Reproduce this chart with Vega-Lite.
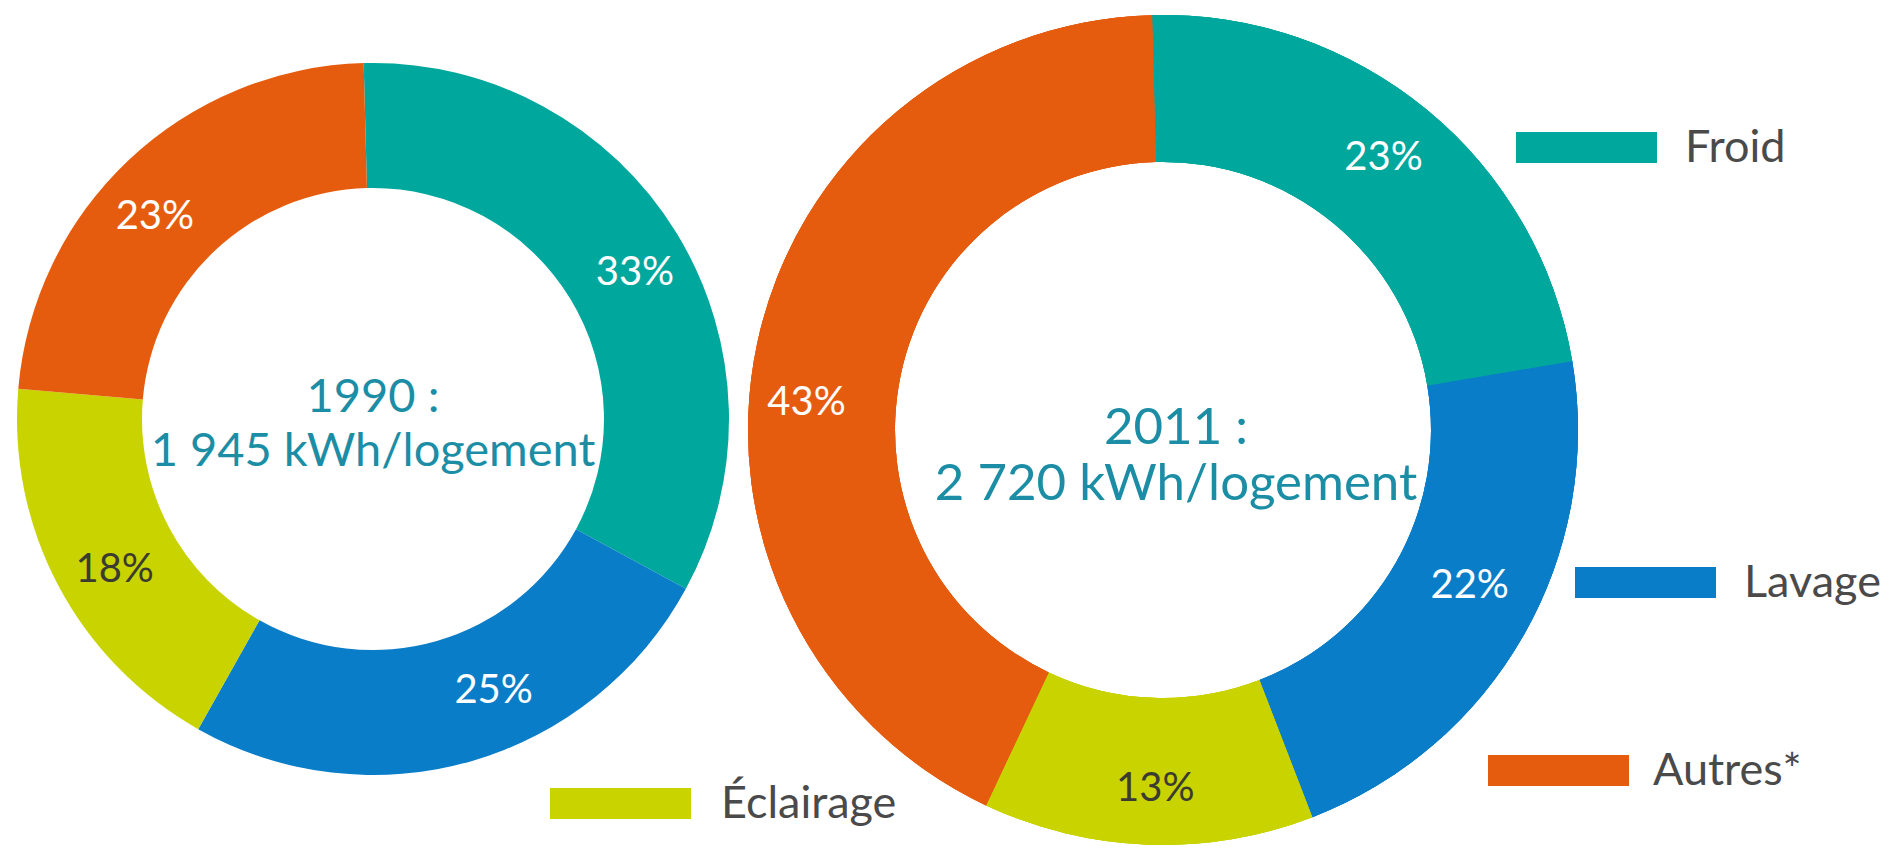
{
  "$schema": "https://vega.github.io/schema/vega-lite/v6.json",
  "padding": 0,
  "background": "white",
  "spacing": 0,
  "bounds": "flush",
  "config": {"view": {"stroke": null}, "font": "Lato", "text": {"font": "Lato", "fontSize": 40, "align": "center", "baseline": "middle"}},
  "datasets": {
    "d1990": [
      {"usage": "Froid", "part": 33},
      {"usage": "Lavage", "part": 25},
      {"usage": "Éclairage", "part": 18},
      {"usage": "Autres", "part": 23}
    ],
    "d2011": [
      {"usage": "Froid", "part": 23},
      {"usage": "Lavage", "part": 22},
      {"usage": "Éclairage", "part": 13},
      {"usage": "Autres", "part": 43}
    ]
  },
  "resolve": {"scale": {"color": "independent"}, "legend": {"color": "independent"}},
  "hconcat": [
    {
      "width": 746,
      "height": 838,
      "data": {"name": "d1990"},
      "transform": [
        {"calculate": "indexof(['Froid','Lavage','Éclairage','Autres'], datum.usage)", "as": "rang"},
        {"calculate": "datum.part + '%'", "as": "etiquette"}
      ],
      "encoding": {
        "theta": {"field": "part", "type": "quantitative", "stack": true, "scale": {"range": [-0.0262, 6.257]}},
        "order": {"field": "rang", "type": "quantitative"},
        "detail": {"field": "usage", "type": "nominal"}
      },
      "resolve": {"scale": {"color": "independent"}, "legend": {"color": "independent"}},
      "layer": [
        {
          "mark": {"type": "arc", "radius": 356, "innerRadius": 231},
          "encoding": {
            "color": {
              "field": "usage", "type": "nominal",
              "scale": {"domain": ["Froid", "Lavage", "Éclairage", "Autres"], "range": ["#00A79D", "#0A7DC8", "#C9D300", "#E65C0F"]},
              "legend": {
                "orient": "none", "legendX": 550, "legendY": 733, "values": ["Éclairage"], "title": null,
                "symbolType": "M-1,-0.22H1V0.22H-1Z", "symbolSize": 19881, "symbolStrokeWidth": 0,
                "labelFontSize": 45, "labelFont": "Lato", "labelColor": "#4a4a4a", "labelOffset": 30, "labelLimit": 0, "padding": 0
              }
            }
          }
        },
        {
          "mark": {"type": "text", "radius": 299, "color": "white", "dx": 7, "dy": 10},
          "encoding": {"text": {"condition": {"test": "datum.usage === 'Froid'", "field": "etiquette"}, "value": ""}}
        },
        {
          "mark": {"type": "text", "radius": 299, "color": "white", "dx": 38, "dy": -15},
          "encoding": {"text": {"condition": {"test": "datum.usage === 'Lavage'", "field": "etiquette"}, "value": ""}}
        },
        {
          "mark": {"type": "text", "radius": 299, "color": "#3b3b30", "dx": 6, "dy": 11},
          "encoding": {"text": {"condition": {"test": "datum.usage === 'Éclairage'", "field": "etiquette"}, "value": ""}}
        },
        {
          "mark": {"type": "text", "radius": 299, "color": "white", "dx": -13, "dy": 16},
          "encoding": {"text": {"condition": {"test": "datum.usage === 'Autres'", "field": "etiquette"}, "value": ""}}
        },
        {
          "data": {"values": [{"titre": "1990 :\n1 945 kWh/logement"}]},
          "transform": [],
          "mark": {"type": "text", "fontSize": 47, "font": "Lato", "color": "#1B8EA6", "align": "center", "baseline": "middle", "lineBreak": "\n", "lineHeight": 54, "dy": -21},
          "encoding": {"text": {"field": "titre", "type": "nominal"}, "theta": null, "order": null, "detail": null}
        }
      ]
    },
    {
      "width": 834,
      "height": 860,
      "data": {"name": "d2011"},
      "transform": [
        {"calculate": "indexof(['Froid','Lavage','Éclairage','Autres'], datum.usage)", "as": "rang"},
        {"calculate": "datum.part + '%'", "as": "etiquette"}
      ],
      "encoding": {
        "theta": {"field": "part", "type": "quantitative", "stack": true, "scale": {"range": [-0.0262, 6.257]}},
        "order": {"field": "rang", "type": "quantitative"},
        "detail": {"field": "usage", "type": "nominal"}
      },
      "resolve": {"scale": {"color": "independent"}, "legend": {"color": "independent"}},
      "layer": [
        {
          "mark": {"type": "arc", "radius": 415, "innerRadius": 268},
          "encoding": {
            "color": {
              "field": "usage", "type": "nominal",
              "scale": {"domain": ["Froid", "Lavage", "Éclairage", "Autres"], "range": ["#00A79D", "#0A7DC8", "#C9D300", "#E65C0F"]},
              "legend": {
                "orient": "none", "legendX": 770, "legendY": 77, "values": ["Froid"], "title": null,
                "symbolType": "M-1,-0.22H1V0.22H-1Z", "symbolSize": 19881, "symbolStrokeWidth": 0,
                "labelFontSize": 45, "labelFont": "Lato", "labelColor": "#4a4a4a", "labelOffset": 28, "labelLimit": 0, "padding": 0
              }
            }
          }
        },
        {
          "mark": {"type": "arc", "radius": 415, "innerRadius": 268},
          "encoding": {
            "color": {
              "field": "usage", "type": "nominal",
              "scale": {"domain": ["Froid", "Lavage", "Éclairage", "Autres"], "range": ["#00A79D", "#0A7DC8", "#C9D300", "#E65C0F"]},
              "legend": {
                "orient": "none", "legendX": 829, "legendY": 512, "values": ["Lavage"], "title": null,
                "symbolType": "M-1,-0.22H1V0.22H-1Z", "symbolSize": 19881, "symbolStrokeWidth": 0,
                "labelFontSize": 45, "labelFont": "Lato", "labelColor": "#4a4a4a", "labelOffset": 28, "labelLimit": 0, "padding": 0
              }
            }
          }
        },
        {
          "mark": {"type": "arc", "radius": 415, "innerRadius": 268},
          "encoding": {
            "color": {
              "field": "usage", "type": "nominal",
              "scale": {"domain": ["Froid", "Lavage", "Éclairage", "Autres"], "range": ["#00A79D", "#0A7DC8", "#C9D300", "#E65C0F"]},
              "legend": {
                "orient": "none", "legendX": 742, "legendY": 700, "values": ["Autres"], "title": null,
                "labelExpr": "datum.label + '*'",
                "symbolType": "M-1,-0.22H1V0.22H-1Z", "symbolSize": 19881, "symbolStrokeWidth": 0,
                "labelFontSize": 45, "labelFont": "Lato", "labelColor": "#4a4a4a", "labelOffset": 24, "labelLimit": 0, "padding": 0
              }
            }
          }
        },
        {
          "mark": {"type": "text", "radius": 353, "color": "white", "dx": -4, "dy": 0},
          "encoding": {"text": {"condition": {"test": "datum.usage === 'Froid'", "field": "etiquette"}, "value": ""}}
        },
        {
          "mark": {"type": "text", "radius": 353, "color": "white", "dx": 0, "dy": -19},
          "encoding": {"text": {"condition": {"test": "datum.usage === 'Lavage'", "field": "etiquette"}, "value": ""}}
        },
        {
          "mark": {"type": "text", "radius": 353, "color": "#3b3b30", "dx": 5, "dy": 6},
          "encoding": {"text": {"condition": {"test": "datum.usage === 'Éclairage'", "field": "etiquette"}, "value": ""}}
        },
        {
          "mark": {"type": "text", "radius": 353, "color": "white", "dx": -11, "dy": 46},
          "encoding": {"text": {"condition": {"test": "datum.usage === 'Autres'", "field": "etiquette"}, "value": ""}}
        },
        {
          "data": {"values": [{"titre": "2011 :\n2 720 kWh/logement"}]},
          "transform": [],
          "mark": {"type": "text", "fontSize": 51, "font": "Lato", "color": "#1B8EA6", "align": "center", "baseline": "middle", "lineBreak": "\n", "lineHeight": 56, "dx": 13, "dy": -1},
          "encoding": {"text": {"field": "titre", "type": "nominal"}, "theta": null, "order": null, "detail": null}
        }
      ]
    }
  ]
}
